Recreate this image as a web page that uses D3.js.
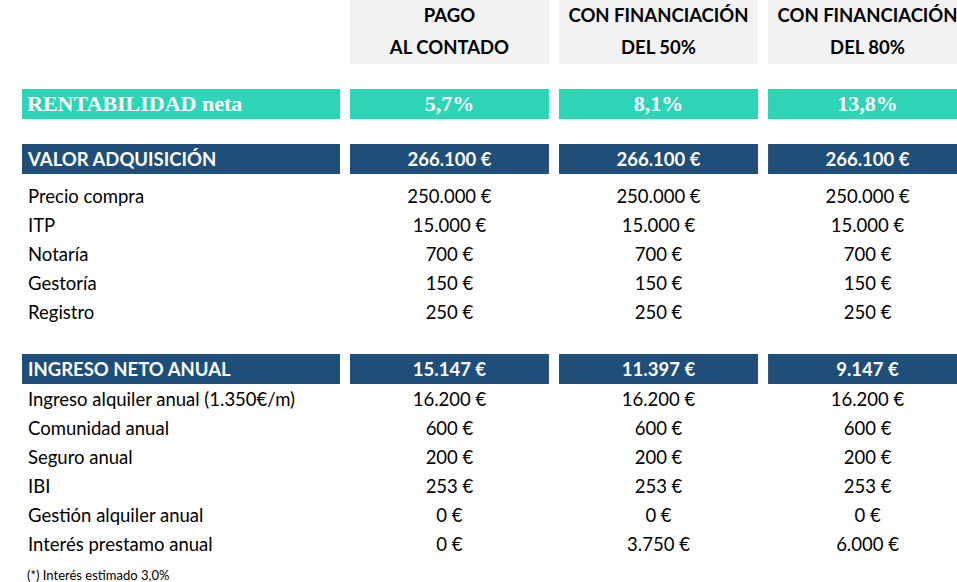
<!DOCTYPE html>
<html><head><meta charset="utf-8">
<script src="https://cdn.jsdelivr.net/npm/d3@7"></script>
<style>body{margin:0;background:#fff}</style></head>
<body><svg id="c" width="957" height="582"></svg>
<script>
const scenarios = [["PAGO","AL CONTADO"],["CON FINANCIACIÓN","DEL 50%"],["CON FINANCIACIÓN","DEL 80%"]];
const rentabilidad = ["5,7%","8,1%","13,8%"];
const valorAdq = ["266.100 €","266.100 €","266.100 €"];
const adqLabels = ["Precio compra","ITP","Notaría","Gestoría","Registro"];
const adqValues = [["250.000 €","250.000 €","250.000 €"],["15.000 €","15.000 €","15.000 €"],["700 €","700 €","700 €"],["150 €","150 €","150 €"],["250 €","250 €","250 €"]];
const ingresoNeto = ["15.147 €","11.397 €","9.147 €"];
const ingLabels = ["Ingreso alquiler anual (1.350€/m)","Comunidad anual","Seguro anual","IBI","Gestión alquiler anual","Interés prestamo anual"];
const ingValues = [["16.200 €","16.200 €","16.200 €"],["600 €","600 €","600 €"],["200 €","200 €","200 €"],["253 €","253 €","253 €"],["0 €","0 €","0 €"],["0 €","3.750 €","6.000 €"]];
const footnote = "(*) Interés estimado 3,0%";

const svg = d3.select("#c");
const F = "Lato, 'Open Sans', sans-serif";
const x = d3.scaleBand().domain([0,1,2]).range([350,967]).paddingInner(10/207).paddingOuter(0);
const bw = x.bandwidth();
const cx = i => x(i)+bw/2;

// header
scenarios.forEach((s,i)=>{
  svg.append("rect").attr("x",x(i)).attr("y",0).attr("width",bw).attr("height",64).attr("fill","#f2f2f2");
  s.forEach((t,j)=>svg.append("text").attr("x",cx(i)).attr("y",22+j*32).attr("text-anchor","middle")
    .attr("font-family",F).attr("font-weight","bold").attr("font-size",18.5).attr("fill","#000").text(t));
});

function band(y,h,color,label,vals,serif){
  svg.append("rect").attr("x",22).attr("y",y).attr("width",318).attr("height",h).attr("fill",color);
  svg.append("text").attr("x",serif?27:28).attr("y",y+h/2+ (serif?7:6.5)).attr("fill","#fff")
    .attr("font-family",serif?"'Liberation Serif', serif":F).attr("font-weight","bold")
    .attr("font-size",serif?22:18.5).text(label);
  vals.forEach((v,i)=>{
    svg.append("rect").attr("x",x(i)).attr("y",y).attr("width",bw).attr("height",h).attr("fill",color);
    svg.append("text").attr("x",cx(i)).attr("y",y+h/2+(serif?7:6.5)).attr("text-anchor","middle").attr("fill","#fff")
      .attr("font-family",serif?"'Liberation Serif', serif":F).attr("font-weight","bold")
      .attr("font-size",serif?22:18.5).text(v);
  });
}
band(89,30,"#2dd4b6","RENTABILIDAD neta",rentabilidad,true);
band(144,30,"#1f4e78","VALOR ADQUISICIÓN",valorAdq,false);
band(354,30,"#1f4e78","INGRESO NETO ANUAL",ingresoNeto,false);

function rows(y0,labels,vals){
  const y = d3.scaleBand().domain(d3.range(labels.length)).range([y0,y0+29*labels.length]);
  labels.forEach((l,r)=>{
    const yy = y(r)+21;
    svg.append("text").attr("x",28).attr("y",yy).attr("font-family",F).attr("font-size",18.5).attr("fill","#000").text(l);
    vals[r].forEach((v,i)=>svg.append("text").attr("x",cx(i)).attr("y",yy).attr("text-anchor","middle")
      .attr("font-family",F).attr("font-size",18.5).attr("fill","#000").text(v));
  });
}
rows(182,adqLabels,adqValues);
rows(385,ingLabels,ingValues);
svg.append("text").attr("x",27).attr("y",580).attr("font-family",F).attr("font-size",13).attr("fill","#000").text(footnote);
</script></body></html>
